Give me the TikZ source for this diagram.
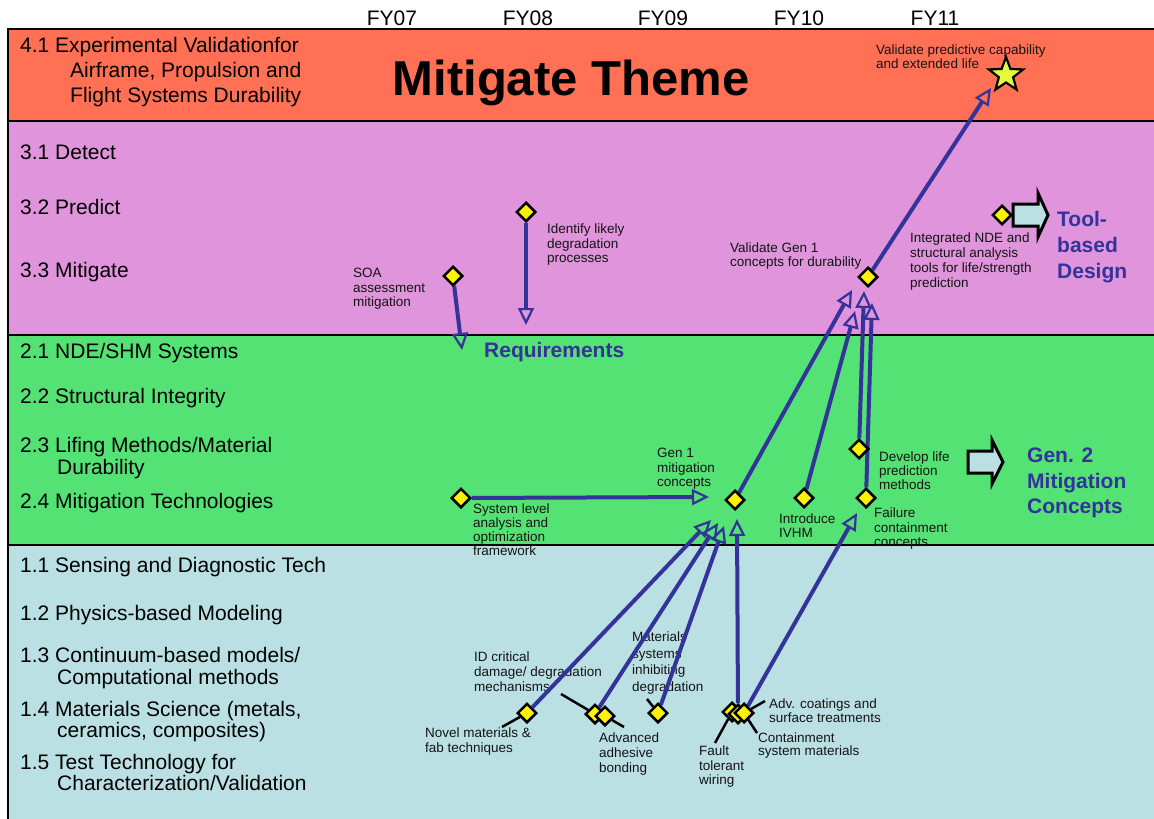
\documentclass[tikz,border=0pt]{standalone}
\usepackage{fontspec}
\setmainfont{Liberation Sans}
\usetikzlibrary{shapes.geometric,arrows.meta}
\definecolor{laneorange}{RGB}{255,112,84}
\definecolor{lanepink}{RGB}{224,148,220}
\definecolor{lanegreen}{RGB}{84,226,116}
\definecolor{laneblue}{RGB}{186,224,228}
\definecolor{navy}{RGB}{51,51,153}
\definecolor{starfill}{RGB}{228,250,60}
\definecolor{ink}{RGB}{20,20,20}
\pgfdeclarelayer{bg}\pgfdeclarelayer{lines}\pgfdeclarelayer{front}
\pgfsetlayers{bg,main,lines,front}
\begin{document}
\begin{tikzpicture}[x=1pt,y=-1pt,
  ms/.style={diamond, draw=black, fill=yellow, line width=2.5pt, inner sep=0pt, minimum width=19.5pt, minimum height=19.5pt},
  small/.style={font=\fontsize{13.5}{#1}\selectfont},
  small/.default=14.5,
  lbl/.style={anchor=north west, inner sep=0pt, align=left, text=ink, small},
  lanelbl/.style={anchor=north west, inner sep=0pt, align=left, text=black, font=\fontsize{21}{#1}\selectfont},
  lanelbl/.default=22,
  fy/.style={anchor=base, inner sep=0pt, font=\fontsize{21}{22}\selectfont},
  bluebig/.style={anchor=north west, inner sep=0pt, align=left, text=navy, font=\fontsize{21}{#1}\selectfont\bfseries},
  bluebig/.default=26,
  conn/.style={draw=navy, line width=4pt, -{Triangle[open, length=17pt, width=16pt, line width=2.2pt]}},
  leader/.style={draw=black, line width=2.5pt},
  lanerule/.style={draw=black, line width=2pt},
  blockarrow/.style={draw=black, fill=laneblue, line width=3pt, line join=miter}
]
\useasboundingbox (0,0) rectangle (1154,819);

% lanes
\begin{pgfonlayer}{bg}
\fill[laneorange] (8,29) rectangle (1154,121);
\fill[lanepink] (8,121) rectangle (1154,335);
\fill[lanegreen] (8,335) rectangle (1154,545);
\fill[laneblue] (8,545) rectangle (1154,819);
\draw[lanerule] (1154,29) -- (8,29) -- (8,819);
\draw[lanerule] (8,121) -- (1154,121);
\draw[lanerule] (8,335) -- (1154,335);
\draw[lanerule] (8,545) -- (1154,545);
\end{pgfonlayer}

% fiscal years
\node[fy] (fy07) at (392,25) {FY07};
\node[fy] (fy08) at (528,25) {FY08};
\node[fy] (fy09) at (663,25) {FY09};
\node[fy] (fy10) at (799,25) {FY10};
\node[fy] (fy11) at (935,25) {FY11};

% lane labels
\node[lanelbl=25] (l41) at (20,37) {4.1 Experimental Validationfor\\\hspace*{50pt}Airframe, Propulsion and\\\hspace*{50pt}Flight Systems Durability};
\node[anchor=base, inner sep=0pt, font=\fontsize{49}{50}\selectfont\bfseries] (theme) at (571,95) {Mitigate Theme};
\node[lanelbl] (l31) at (20,145) {3.1 Detect};
\node[lanelbl] (l32) at (20,199) {3.2 Predict};
\node[lanelbl] (l33) at (20,262) {3.3 Mitigate};
\node[lanelbl] (l21) at (20,343) {2.1 NDE/SHM Systems};
\node[lanelbl] (l22) at (20,388) {2.2 Structural Integrity};
\node[lanelbl] (l23) at (20,437) {2.3 Lifing Methods/Material\\\hspace*{37pt}Durability};
\node[lanelbl] (l24) at (20,493) {2.4 Mitigation Technologies};
\node[lanelbl] (l11) at (20,557) {1.1 Sensing and Diagnostic Tech};
\node[lanelbl] (l12) at (20,605) {1.2 Physics-based Modeling};
\node[lanelbl] (l13) at (20,647) {1.3 Continuum-based models/\\\hspace*{37pt}Computational methods};
\node[lanelbl=21] (l14) at (20,701) {1.4 Materials Science (metals,\\\hspace*{37pt}ceramics, composites)};
\node[lanelbl=21] (l15) at (20,754) {1.5 Test Technology for\\\hspace*{37pt}Characterization/Validation};

% outcome texts
\node[bluebig] (req) at (484,342) {Requirements};
\node[bluebig] (tool) at (1057,211) {Tool-\\based\\Design};
\node[bluebig=25.5] (gen2) at (1027,448) {Gen. 2\\Mitigation\\Concepts};

% block arrows
\draw[blockarrow] (1013,204) -- (1038,204) -- (1038,193) -- (1048,215) -- (1038,237) -- (1038,226) -- (1013,226) -- cycle;
\draw[blockarrow] (968,451) -- (992,451) -- (992,440) -- (1003,462) -- (992,484) -- (992,473) -- (968,473) -- cycle;

% milestone labels
\node[lbl, small=14] (tvalpred) at (876,45) {Validate predictive capability\\and extended life};
\node[lbl] (tsoa) at (353,268) {SOA\\assessment\\mitigation};
\node[lbl] (tident) at (547,224) {Identify likely\\degradation\\processes};
\node[lbl, small=14] (tvalg1) at (730,243) {Validate Gen 1\\concepts for durability};
\node[lbl, small=15] (tinteg) at (910,233) {Integrated NDE and\\structural analysis\\tools for life/strength\\prediction};
\node[lbl] (tgen1) at (657,448) {Gen 1\\mitigation\\concepts};
\node[lbl, small=14] (tsysl) at (473,504) {System level\\analysis and\\optimization\\framework};
\node[lbl, small=14] (tivhm) at (779,514) {Introduce\\IVHM};
\node[lbl, small=14] (tdevlife) at (879,452) {Develop life\\prediction\\methods};
\node[lbl] (tfailc) at (874,508) {Failure\\containment\\concepts};
\node[lbl, small=15] (tidcrit) at (474,652) {ID critical\\damage/ degradation\\mechanisms};
\node[lbl, small=16.5] (tmatsys) at (632,632) {Materials\\systems\\inhibiting\\degradation};
\node[lbl, small=15] (tnovel) at (425,728) {Novel materials \&\\fab techniques};
\node[lbl, small=15] (tadh) at (599,733) {Advanced\\adhesive\\bonding};
\node[lbl] (tfault) at (699,746) {Fault\\tolerant\\wiring};
\node[lbl, small=13] (tcont) at (758,733) {Containment\\system materials};
\node[lbl, small=14] (tcoat) at (769,699) {Adv. coatings and\\surface treatments};

% milestones
\begin{pgfonlayer}{front}
\node[star, star points=5, star point ratio=2.4, draw=black, fill=starfill, line width=2.2pt, inner sep=0pt, minimum size=36pt] (goal) at (1006,75) {};
\node[ms] (soa) at (453,276) {};
\node[ms] (ident) at (526,212) {};
\node[ms] (valg1) at (868,277) {};
\node[ms] (integ) at (1002,215) {};
\node[ms] (sysl) at (461,498) {};
\node[ms] (gen1) at (735,500) {};
\node[ms] (ivhm) at (804,498) {};
\node[ms] (devlife) at (859,449) {};
\node[ms] (failc) at (866,498) {};
\node[ms] (novel) at (527,713) {};
\node[ms] (adh1) at (595,714) {};
\node[ms] (adh2) at (605,716) {};
\node[ms] (matsys) at (658,713) {};
\node[ms] (cl1) at (732,712) {};
\node[ms] (cl2) at (738,714) {};
\node[ms] (cl3) at (744,713) {};
\end{pgfonlayer}

% arrow targets
\coordinate (atstar) at (991,88);
\coordinate (atreq) at (462,350);
\coordinate (atident) at (526,325);
\coordinate (atsys) at (709,497);
\coordinate (atv1) at (852,290);
\coordinate (atv2) at (864,291);
\coordinate (atv3) at (872,303);
\coordinate (atv4) at (855,311);
\coordinate (atg1) at (711,520);
\coordinate (atg2) at (718,523);
\coordinate (atg3) at (724,526);
\coordinate (atg4) at (737,519);
\coordinate (atfc) at (857,513);
% leader ends
\coordinate (lnovel) at (502,727);
\coordinate (lidc) at (561,694);
\coordinate (ladh) at (624,727);
\coordinate (lmat) at (647,699);
\coordinate (lfault) at (715,743);
\coordinate (lcont) at (757,733);
\coordinate (lcoat) at (765,701);

\begin{pgfonlayer}{lines}
\draw[conn] (valg1) -- (atstar);
\draw[conn] (soa) -- (atreq);
\draw[conn] (ident) -- (atident);
\draw[conn] (sysl) -- (atsys);
\draw[conn] (gen1) -- (atv1);
\draw[conn] (devlife) -- (atv2);
\draw[conn] (failc) -- (atv3);
\draw[conn] (ivhm) -- (atv4);
\draw[conn] (novel) -- (atg1);
\draw[conn] (adh1) -- (atg2);
\draw[conn] (matsys) -- (atg3);
\draw[conn] (cl2) -- (atg4);
\draw[conn] (cl3) -- (atfc);
\draw[leader] (novel) -- (lnovel);
\draw[leader] (lidc) -- (adh1);
\draw[leader] (adh2) -- (ladh);
\draw[leader] (lmat) -- (matsys);
\draw[leader] (lfault) -- (cl1);
\draw[leader] (cl3) -- (lcont);
\draw[leader] (cl3) -- (lcoat);
\end{pgfonlayer}
\end{tikzpicture}
\end{document}
